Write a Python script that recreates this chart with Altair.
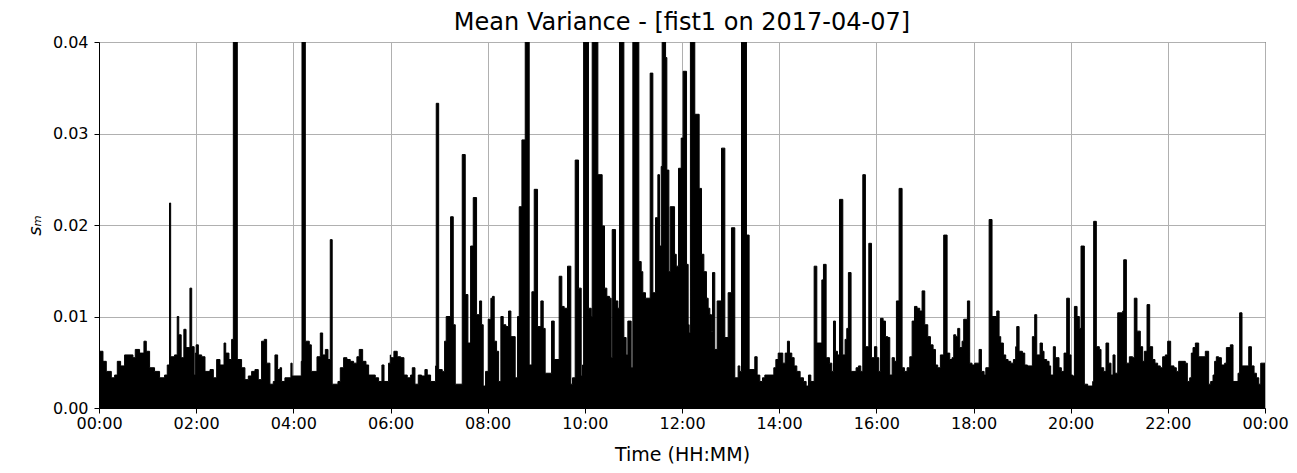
import json
import altair as alt
import pandas as pd

# Upper envelope of the mean-variance trace
# (time in minutes after midnight, value held until the next point).
m_00_02 = [0, 4.9, 9, 15.2, 19.3, 22.6, 26.7, 31.6, 41.9, 44.8, 50.1, 55.5, 58.4, 62.5, 68.6, 74.8,
           81, 84.3, 87.1, 88.5, 93.3, 96.6, 98.5, 101.5, 104.8, 107.5, 112.3, 114.5, 117.5, 119]
v_00_02 = [0.0062, 0.0051, 0.0040, 0.0033, 0.0036, 0.0051, 0.0046, 0.0058, 0.0055, 0.0064, 0.0060,
           0.0073, 0.0062, 0.0044, 0.0040, 0.0033, 0.0036, 0.0047, 0.0224, 0.0056, 0.0058, 0.0100,
           0.0080, 0.0055, 0.0086, 0.0066, 0.0131, 0.0067, 0.0036, 0.0060]

m_02_04 = [120, 122.7, 126.8, 130.9, 137.1, 141.2, 145.3, 149.4, 154.4, 156.5, 160.5, 163.8, 165.9,
           170.8, 176.1, 180.2, 184.4, 188.5, 192.6, 196.7, 200.8, 204.1, 207, 211.1, 215.2, 217.3,
           220.6, 223.5, 225.5, 229.6, 237, 238.5]
v_02_04 = [0.0069, 0.0058, 0.0056, 0.0040, 0.0042, 0.0033, 0.0053, 0.0047, 0.0071, 0.0060, 0.0053,
           0.0075, 0.0500, 0.0053, 0.0044, 0.0031, 0.0035, 0.0040, 0.0042, 0.0031, 0.0073, 0.0075,
           0.0049, 0.0026, 0.0029, 0.0058, 0.0042, 0.0044, 0.0029, 0.0033, 0.0049, 0.0035]

m_04_06 = [240.4, 249.8, 250.7, 254.8, 259.7, 262.2, 269.2, 273.3, 276.2, 279.5, 282.8, 285.6, 288,
           295.1, 298, 302.1, 306.2, 310.3, 314.4, 318.5, 321.4, 325.6, 329.7, 333, 341.2, 345.3,
           349.4, 352, 357.6, 359.7]
v_04_06 = [0.0035, 0.0051, 0.0500, 0.0073, 0.0069, 0.0040, 0.0056, 0.0082, 0.0058, 0.0064, 0.0053,
           0.0184, 0.0026, 0.0029, 0.0044, 0.0055, 0.0053, 0.0051, 0.0049, 0.0056, 0.0064, 0.0051,
           0.0047, 0.0036, 0.0033, 0.0029, 0.0047, 0.0029, 0.0049, 0.0058]

m_06_08 = [360.1, 364.2, 368.3, 372.5, 376.6, 380.7, 384.8, 386.9, 390.2, 394.3, 398.4, 402.5, 405.4,
           409.5, 415.7, 416.5, 419.5, 423.9, 426.8, 428.8, 434.2, 437.5, 440, 448.6, 452.3, 455.6,
           458.9, 462.2, 466.3, 470, 472.5, 474.5, 477.4, 480.7]
v_06_08 = [0.0055, 0.0062, 0.0056, 0.0055, 0.0036, 0.0033, 0.0036, 0.0044, 0.0026, 0.0036, 0.0035,
           0.0042, 0.0036, 0.0029, 0.0046, 0.0333, 0.0042, 0.0040, 0.0073, 0.0100, 0.0209, 0.0091,
           0.0026, 0.0277, 0.0124, 0.0071, 0.0177, 0.0230, 0.0102, 0.0117, 0.0091, 0.0024, 0.0040,
           0.0097]

m_08_10 = [484, 486, 488.1, 491, 493.5, 496.3, 499.2, 502.5, 505.8, 508.7, 514, 516.9, 519, 522.3,
           526.4, 531.3, 534.6, 537.5, 541.6, 545.7, 548.6, 551, 558.9, 562.2, 568.3, 571.6, 574.5,
           578.6, 582.7, 584.8, 588.1, 592.2, 595.5, 597.1]
v_08_10 = [0.0120, 0.0122, 0.0073, 0.0062, 0.0029, 0.0100, 0.0091, 0.0089, 0.0106, 0.0078, 0.0033,
           0.0100, 0.0220, 0.0293, 0.0500, 0.0047, 0.0127, 0.0239, 0.0089, 0.0117, 0.0087, 0.0038,
           0.0095, 0.0053, 0.0144, 0.0111, 0.0109, 0.0155, 0.0026, 0.0033, 0.0271, 0.0131, 0.0035,
           0.0047]

m_10_12 = [598.5, 604.5, 607.9, 609.1, 616.1, 621.4, 624.3, 627.2, 630.5, 632.5, 633.8, 637.9, 640.8,
           642.8, 648.2, 651, 653.1, 657.2, 659.3, 666.7, 669.6, 671.6, 674.9, 680.7, 684, 687.3,
           690.2, 692.2, 694.3, 695.5, 699.7, 701.3, 703.8, 705.4, 710.8, 712.9, 715.7, 719]
v_10_12 = [0.0500, 0.0109, 0.0100, 0.0500, 0.0255, 0.0199, 0.0131, 0.0122, 0.0120, 0.0055, 0.0195,
           0.0117, 0.0109, 0.0500, 0.0077, 0.0058, 0.0095, 0.0044, 0.0500, 0.0160, 0.0149, 0.0126,
           0.0120, 0.0366, 0.0126, 0.0208, 0.0255, 0.0177, 0.0264, 0.0500, 0.0383, 0.0260, 0.0149,
           0.0220, 0.0168, 0.0155, 0.0262, 0.0295]

m_12_14 = [721.4, 725.6, 727.6, 728.8, 730.4, 735.8, 741.2, 744.1, 747, 750.2, 752.3, 754.4, 756.4,
           757.7, 760.5, 763.4, 768.8, 772.9, 777, 781.1, 785.2, 789.3, 791.4, 793.5, 799.6, 802.9,
           809.9, 812.8, 816.1, 819.4, 822.3, 833.4, 835.9, 838.8]
v_12_14 = [0.0368, 0.0157, 0.0091, 0.0082, 0.0500, 0.0321, 0.0240, 0.0168, 0.0149, 0.0120, 0.0109,
           0.0102, 0.0084, 0.0148, 0.0064, 0.0117, 0.0284, 0.0077, 0.0126, 0.0197, 0.0033, 0.0046,
           0.0040, 0.0500, 0.0189, 0.0042, 0.0056, 0.0036, 0.0029, 0.0033, 0.0036, 0.0044, 0.0053,
           0.0060]

m_14_16 = [841.2, 844.5, 847.4, 850.2, 852.7, 855.6, 858.5, 861.8, 865.9, 870, 873.3, 876.2, 879.1,
           883.2, 886.5, 892.7, 894.7, 898, 902.1, 905, 907.1, 909.5, 912, 914.5, 918.6, 921.4, 923.5,
           925.5, 928.8, 935, 937.9, 940.8, 943.3, 946.5, 950.7, 954, 957.7, 960.6]
v_14_16 = [0.0060, 0.0049, 0.0060, 0.0073, 0.0060, 0.0055, 0.0046, 0.0040, 0.0033, 0.0029, 0.0024,
           0.0036, 0.0029, 0.0155, 0.0071, 0.0140, 0.0157, 0.0055, 0.0049, 0.0040, 0.0095, 0.0062,
           0.0058, 0.0228, 0.0058, 0.0075, 0.0087, 0.0148, 0.0040, 0.0044, 0.0046, 0.0040, 0.0255,
           0.0067, 0.0180, 0.0055, 0.0067, 0.0055]

m_16_18 = [963, 965.1, 968.4, 971.3, 974.2, 976.6, 979.5, 982.3, 984.8, 988.1, 991.8, 994.7, 998,
           1001.3, 1004.2, 1007.1, 1010.3, 1013.6, 1016.5, 1019.8, 1023.5, 1026.8, 1030.1, 1033,
           1035.8, 1039.1, 1043.2, 1047.4, 1050.7, 1053.5, 1055.6, 1058.1, 1060.5, 1063, 1065.9,
           1067.9, 1072.5, 1075.3, 1078.2]
v_16_18 = [0.0040, 0.0098, 0.0095, 0.0078, 0.0077, 0.0036, 0.0055, 0.0051, 0.0117, 0.0240, 0.0044,
           0.0040, 0.0044, 0.0056, 0.0095, 0.0111, 0.0109, 0.0106, 0.0128, 0.0091, 0.0078, 0.0069,
           0.0064, 0.0047, 0.0044, 0.0058, 0.0189, 0.0060, 0.0053, 0.0055, 0.0080, 0.0078, 0.0087,
           0.0066, 0.0073, 0.0097, 0.0117, 0.0049, 0.0047]

m_18_20 = [1081.5, 1086.9, 1089.8, 1093.1, 1095.2, 1099.3, 1102.9, 1108.7, 1111.6, 1113.6, 1116.9,
           1119.8, 1122.7, 1126, 1129.3, 1132.1, 1133.4, 1136.3, 1140.4, 1143.3, 1146.6, 1152.7,
           1155.6, 1158.1, 1162.2, 1165.1, 1167.1, 1170.4, 1173.3, 1175.3, 1178.6, 1181.1, 1185.6,
           1188.5, 1191.8, 1195.1, 1198.4]
v_18_20 = [0.0049, 0.0064, 0.0040, 0.0036, 0.0044, 0.0206, 0.0100, 0.0106, 0.0078, 0.0071, 0.0058,
           0.0053, 0.0051, 0.0049, 0.0053, 0.0067, 0.0089, 0.0062, 0.0060, 0.0047, 0.0046, 0.0078,
           0.0102, 0.0058, 0.0071, 0.0062, 0.0053, 0.0051, 0.0046, 0.0036, 0.0067, 0.0055, 0.0044,
           0.0040, 0.0060, 0.0120, 0.0058]

m_20_22 = [1200.5, 1202.5, 1204.6, 1207.9, 1210.7, 1212.8, 1216.9, 1221, 1227.2, 1228.4, 1231.7,
           1235.4, 1237.5, 1240.8, 1243.6, 1246.9, 1249.8, 1252.3, 1254.8, 1258.1, 1264.3, 1265.5,
           1268.8, 1272.5, 1276.6, 1278.6, 1281.9, 1286, 1288.9, 1291, 1294.3, 1297.6, 1301.2,
           1304.1, 1307.4, 1310.7, 1313.6, 1316.9, 1319.8]
v_20_22 = [0.0036, 0.0035, 0.0111, 0.0100, 0.0087, 0.0177, 0.0026, 0.0024, 0.0029, 0.0204, 0.0067,
           0.0064, 0.0044, 0.0040, 0.0071, 0.0049, 0.0036, 0.0058, 0.0038, 0.0104, 0.0106, 0.0162,
           0.0049, 0.0056, 0.0055, 0.0120, 0.0084, 0.0067, 0.0051, 0.0062, 0.0113, 0.0067, 0.0053,
           0.0049, 0.0046, 0.0044, 0.0056, 0.0058, 0.0073]

m_22_24 = [1323.5, 1327.6, 1330.5, 1333.4, 1341.6, 1344.1, 1347, 1349, 1351.1, 1354, 1358.1, 1366.3,
           1370.4, 1372.9, 1375.8, 1377.8, 1379.9, 1382.8, 1386.1, 1390.2, 1392.3, 1397.2, 1400.5,
           1406.7, 1408.7, 1411.6, 1419.9, 1423.2, 1426.5, 1429.4, 1432.3, 1434.7, 1440]
v_22_24 = [0.0046, 0.0044, 0.0040, 0.0051, 0.0049, 0.0029, 0.0033, 0.0060, 0.0066, 0.0071, 0.0056,
           0.0062, 0.0026, 0.0029, 0.0036, 0.0051, 0.0056, 0.0055, 0.0047, 0.0049, 0.0066, 0.0069,
           0.0029, 0.0038, 0.0104, 0.0046, 0.0067, 0.0046, 0.0038, 0.0033, 0.0026, 0.0049, 0.0049]

x_tick_minutes = [0, 120, 240, 360, 480, 600, 720, 840, 960, 1080, 1200, 1320, 1440]
x_tick_labels = ["00:00", "02:00", "04:00", "06:00", "08:00", "10:00", "12:00",
                 "14:00", "16:00", "18:00", "20:00", "22:00", "00:00"]
y_ticks = [0.0, 0.01, 0.02, 0.03, 0.04]

minutes = (m_00_02 + m_02_04 + m_04_06 + m_06_08 + m_08_10 + m_10_12 +
           m_12_14 + m_14_16 + m_16_18 + m_18_20 + m_20_22 + m_22_24)
values = (v_00_02 + v_02_04 + v_04_06 + v_06_08 + v_08_10 + v_10_12 +
          v_12_14 + v_14_16 + v_16_18 + v_18_20 + v_20_22 + v_22_24)
df = pd.DataFrame({"minute": minutes, "value": values})

label_expr = json.dumps(x_tick_labels) + "[round(datum.value / 120)]"
FONT = "DejaVu Sans"

chart = alt.Chart(df).mark_area(
    interpolate="step-after", color="black", stroke="black", strokeWidth=1, clip=True
).encode(
    x=alt.X("minute:Q",
            scale=alt.Scale(domain=[0, 1440], nice=False, zero=False),
            axis=alt.Axis(values=x_tick_minutes, labelExpr=label_expr, title="Time (HH:MM)",
                          labelFlush=False, labelPadding=2, titlePadding=14)),
    y=alt.Y("value:Q",
            scale=alt.Scale(domain=[0, 0.04], nice=False),
            axis=alt.Axis(values=y_ticks, format=".2f", title="sₘ", titleFontStyle="italic",
                          labelPadding=6, titleFontSize=18, titlePadding=8)),
).properties(
    width=1166,
    height=366,
    title=alt.TitleParams("Mean Variance - [fist1 on 2017-04-07]", fontSize=24, font=FONT,
                          fontWeight="normal", anchor="middle", offset=-1, color="black"),
    autosize=alt.AutoSizeParams(type="none"),
    padding={"left": 99, "top": 42, "right": 32, "bottom": 65},
).configure_view(
    stroke="black", strokeWidth=1
).configure_axis(
    labelFont=FONT, titleFont=FONT, labelFontSize=16, titleFontSize=19,
    labelColor="black", titleColor="black", titleFontWeight="normal",
    domainColor="black", tickColor="black", tickSize=5,
    grid=True, gridColor="#b0b0b0", gridWidth=1,
)

chart.save("out.html", embed_options={"renderer": "svg", "actions": False})
